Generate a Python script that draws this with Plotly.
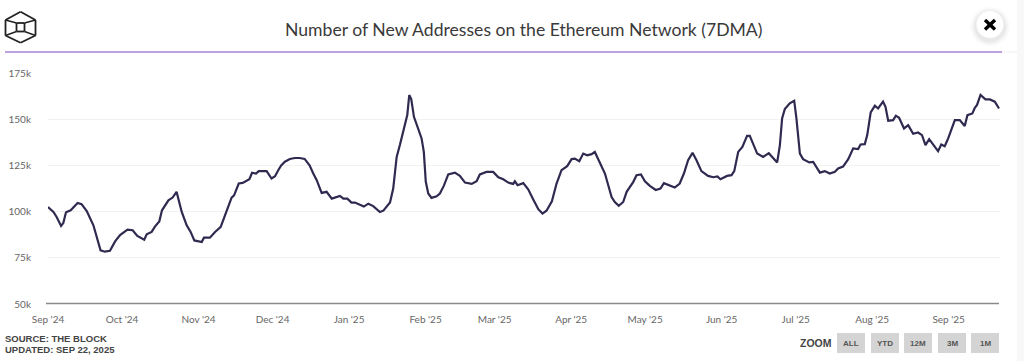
import pandas as pd
import plotly.graph_objects as go

START = "2024-09-01"
days = [0,2.2,3.5,5.3,6.2,7.3,9.2,12,13.6,15.7,18.4,19.7,21.3,23,25.1,27.2,29.2,32.2,34.3,36.2,39,40,42,43.4,45.1,46.2,48.8,50.5,52.1,54.2,56.2,57.8,59.3,62.3,63.2,65.6,67.7,70,71.7,74.4,75.4,77.3,78.9,81.6,82.7,84.3,85.4,88.6,90.6,92,93.3,
        94.5,96,98,100,102,104,106,107.5,108.9,110.9,112.9,115,117.9,
        118.3,119.7,121.3,123,124.4,128,129.8,131.8,134.5,135.9,138.6,139.9,141.3,142.6,144.6,145.6,146.4,147.2,148.3,149.6,151.4,152.3,153.1,154.1,155.4,157.5,158.8,160.4,162.2,164.9,166.9,169,171.7,173.7,175,177.7,180.4,182.5,184.5,186.5,188.5,189.2,190.3,192.6,194.6,196.6,198.7,200.4,202,204.2,206.1,208.1,210.4,212.2,213.5,215.3,216.9,218.5,220.3,221.6,223.4,225.7,228.4,229.7,231.3,233.1,234.5,237.2,238.5,240.3,241.9,243.9,246.3,248.2,249.6,251.3,
        254,256,257.7,259.4,261.2,262.8,264.8,267.5,269.6,271.3,272.5,275.2,277,278.1,279.7,281.4,283.3,284.4,285.8,287.4,289.8,292.1,295.5,296.6,297.5,298.6,300.6,302.4,303.3,304.7,306,308.5,310.1,312.8,314.8,316.8,318.9,320.2,322.2,324.3,326.3,328.3,329.3,331,332,333.4,335.1,336.4,338.4,339.4,340.5,342.5,343.6,344.9,346.9,348.6,350.6,352.6,354.2,355.6,357.1,358.7,360.7,362,363.4,364.8,367.5,369.5,371.5,372.6,374.6,375.6,376.5,377.9,379.9,381.7,383.7,385.4]
new_addresses_k = [102.5,99.8,97.1,92.2,93.8,99.6,100.7,104.7,104,100.3,92.6,87.1,79,78.3,78.8,83.9,87.3,90.2,89.9,86.8,84.8,87.7,89,92,94.7,100.7,106.1,107.6,110.7,99.8,92.6,89,84.4,83.5,85.9,85.9,89,91.7,98,107.6,108.8,115.2,115.5,117.5,121,120.6,121.9,121.9,117.9,119.1,122.4,
        125,127,128.5,129,129,128.5,125,120.6,117,110.1,110.7,107,108.7,
        108.5,107,107,104.9,104.9,102.7,104.3,103,99.8,100.5,104.9,112.5,129.6,136,145.9,152.2,163.1,160.9,151.3,146.8,139.6,132.3,116.1,109.8,107.4,108.3,109.8,113.9,120.1,121.1,119.3,115.7,115,116.4,120.1,121.5,121.5,118.6,117.5,115.7,115,116.4,114.3,115.4,112.1,106.7,101.3,98.9,100.5,105.6,115.2,122.4,124.6,128.4,128.7,127.3,131.4,130.5,131.1,132.3,126.9,120.6,107.9,105.2,103.1,105.2,110.7,116.1,119.7,120.1,116.4,113.9,111.7,112.5,115.4,114.6,
        113,115.2,120.6,127.8,131.8,127.8,121.9,119.3,118.6,119,117.5,119.3,119.7,121.9,132.3,135,141,141,136.9,131.4,129.6,131.6,126.6,136,150.4,155.5,158.6,160,150.4,131.4,128.4,126.6,126.9,121.1,121.9,120.6,121.5,123.3,124.4,128.4,134.2,133.8,136.3,136.5,141.4,153.7,157.3,155.8,159.5,156.7,149.2,149.5,151.9,150.8,145,146.8,142.1,142.8,141.4,136,139.2,136.3,132.7,136.3,135.4,139.6,149.5,149.5,146.3,152.2,153.1,156.2,157.7,163.1,160.7,160.7,159.5,155.8]
month_ticks = ["2024-09-01","2024-10-01","2024-11-01","2024-12-01","2025-01-01","2025-02-01","2025-03-01","2025-04-01","2025-05-01","2025-06-01","2025-07-01","2025-08-01","2025-09-01"]
month_labels = ["Sep '24","Oct '24","Nov '24","Dec '24","Jan '25","Feb '25","Mar '25","Apr '25","May '25","Jun '25","Jul '25","Aug '25","Sep '25"]
y_ticks = [50,75,100,125,150,175]
y_labels = ["50k","75k","100k","125k","150k","175k"]
zoom_buttons = ["ALL","YTD","12M","3M","1M"]
TITLE = "Number of New Addresses on the Ethereum Network (7DMA)"

W, H = 1024, 361
L, R, T, B = 48, 24, 73, 57
PW, PH = W - L - R, H - T - B
px = lambda x: (x - L) / PW
py = lambda y: 1 - (y - T) / PH

dates = pd.Timestamp(START) + pd.to_timedelta(days, unit="D")

fig = go.Figure(go.Scatter(x=dates, y=new_addresses_k, mode="lines",
                           line=dict(color="#2e2a50", width=2.2), hoverinfo="skip"))

shapes, annos = [], []
def line(x0, y0, x1, y1, color, width):
    shapes.append(dict(type="line", xref="paper", yref="paper", x0=px(x0), y0=py(y0), x1=px(x1), y1=py(y1),
                       line=dict(color=color, width=width), layer="above"))
def rect(x0, y0, x1, y1, fill):
    shapes.append(dict(type="rect", xref="paper", yref="paper", x0=px(x0), y0=py(y0), x1=px(x1), y1=py(y1),
                       fillcolor=fill, line=dict(width=0), layer="below"))
def circle(cx, cy, r, fill):
    shapes.append(dict(type="circle", xref="paper", yref="paper", x0=px(cx-r), y0=py(cy-r), x1=px(cx+r), y1=py(cy+r),
                       fillcolor=fill, line=dict(width=0), layer="above"))
def text(x, y, s, size, color, family="Lato", anchor="left", bold=False):
    annos.append(dict(xref="paper", yref="paper", x=px(x), y=py(y), text=f"<b>{s}</b>" if bold else s, showarrow=False,
                      xanchor=anchor, yanchor="middle", font=dict(size=size, color=color, family=family), borderpad=0, borderwidth=0))

# right page strip
rect(1017, 0, 1024, 361, "#f8f8f8")
# header rule
line(5, 52, 1002, 52, "#a983d3", 1.5)
line(1002, 52, 1017, 52, "#eeeeee", 1)
# baseline at 50k
line(46, 303.6, 999, 303.6, "#8a8a8a", 1.5)

# logo (hexagonal cube)
hexa = [(20.5,11.7),(35.5,20),(35.5,35.5),(20.5,42.7),(5.5,35.5),(5.5,20)]
for i in range(6):
    a, b = hexa[i], hexa[(i+1) % 6]
    line(a[0], a[1], b[0], b[1], "#222222", 1.8)
inner = [(16.5,23),(24.5,23),(24.5,31.5),(16.5,31.5)]
for i in range(4):
    a, b = inner[i], inner[(i+1) % 4]
    line(a[0], a[1], b[0], b[1], "#222222", 1.8)
for a, b in zip([(5.5,20),(35.5,20),(5.5,35.5),(35.5,35.5)], [inner[0],inner[1],inner[3],inner[2]]):
    line(a[0], a[1], b[0], b[1], "#222222", 1.6)

# close button
for r, c in [(20,"rgba(0,0,0,0.015)"),(18,"rgba(0,0,0,0.03)"),(16,"rgba(0,0,0,0.04)")]:
    circle(990, 26.5, r, c)
circle(990, 24.5, 13.5, "#ffffff")
line(985, 20, 995, 29.5, "#000000", 3.4)
line(995, 20, 985, 29.5, "#000000", 3.4)

text(523, 29, TITLE, 17.6, "#3a3a3a", anchor="center")
text(5, 338.5, "SOURCE: THE BLOCK", 9.5, "#444444", "Liberation Sans", bold=True)
text(5, 349.5, "UPDATED: SEP 22, 2025", 9.5, "#444444", "Liberation Sans", bold=True)
text(800, 343, "ZOOM", 10.5, "#444444", "Liberation Sans", bold=True)
for s, x0 in zip(zoom_buttons, [837, 871, 904, 938, 971]):
    rect(x0, 333, x0 + 28, 353, "#d4d4d4")
    text(x0 + 14, 343.5, s, 8, "#555555", "Liberation Sans", anchor="center", bold=True)

fig.update_layout(
    width=W, height=H, autosize=False, showlegend=False,
    margin=dict(l=L, r=R, t=T, b=B, autoexpand=False), paper_bgcolor="#ffffff", plot_bgcolor="#ffffff",
    shapes=shapes, annotations=annos,
    xaxis=dict(range=[pd.Timestamp(START), pd.Timestamp(START) + pd.Timedelta(days=385.8)],
               tickmode="array", tickvals=month_ticks, ticktext=month_labels,
               showgrid=False, zeroline=False, showline=False, ticks="outside", ticklen=6, tickcolor="rgba(0,0,0,0)",
               tickfont=dict(family="Lato", size=10, color="#666666")),
    yaxis=dict(range=[50, 175], tickmode="array", tickvals=y_ticks, ticktext=y_labels,
               showgrid=True, gridcolor="#f2f2f2", gridwidth=1, zeroline=False, showline=False,
               ticks="outside", ticklen=14, tickcolor="rgba(0,0,0,0)",
               tickfont=dict(family="Lato", size=10, color="#666666")),
)
fig.write_html("out.html", config=dict(displayModeBar=False),
               post_script="document.body.style.margin='0';document.body.style.overflow='hidden';")
